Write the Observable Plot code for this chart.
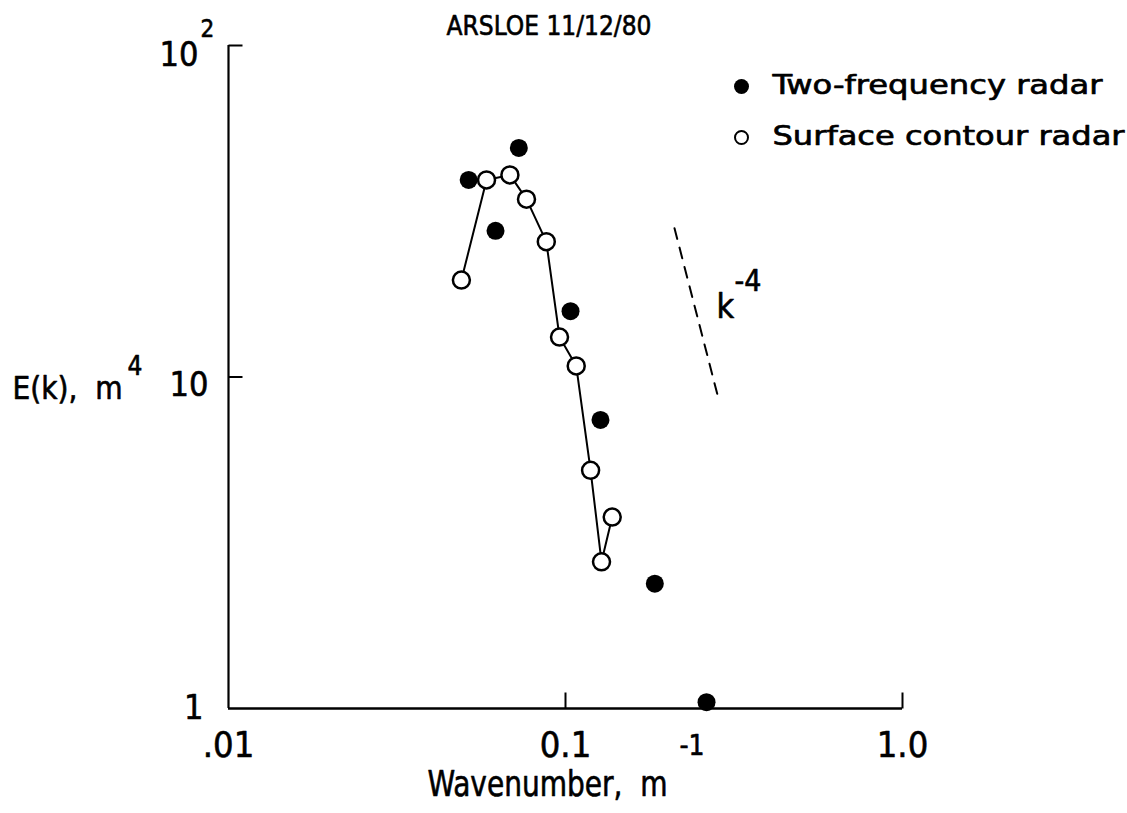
<!DOCTYPE html>
<html><head><meta charset="utf-8">
<script src="https://cdn.jsdelivr.net/npm/d3@7"></script>
<script src="https://cdn.jsdelivr.net/npm/@observablehq/plot@0.6"></script>
<style>
html,body{margin:0;padding:0;background:#fff;}
svg{display:block;}
</style></head><body><div id="chart"></div>
<script>
// ---- data ----
const title = "ARSLOE 11/12/80";
const xLabel = "Wavenumber,  m";
const xLabelSup = "-1";
const yLabel = "E(k),  m";
const yLabelSup = "4";
const seriesNames = ["Two-frequency radar", "Surface contour radar"];

const twoFreqK = [0.0516, 0.0620, 0.0727, 0.1035, 0.1270, 0.1841, 0.2621];
const twoFreqE = [39.3, 27.6, 49.1, 15.8, 7.42, 2.38, 1.045];

const scrK = [0.0491, 0.0583, 0.0684, 0.0766, 0.0877, 0.0960, 0.1076, 0.1187, 0.1279, 0.1376];
const scrE = [19.6, 39.3, 40.7, 34.4, 25.6, 13.2, 10.8, 5.23, 2.77, 3.78];

const slopeK = [0.2106, 0.2831];
const slopeE = [28.1, 8.76];
const slopeLabelK = [0.2805];
const slopeLabelE = [16.3];
const slopeLabelText = ["k"];
const slopeLabelSup = ["-4"];

const xTicks = [0.01, 0.1, 1];
const xTickLabels = [".01", "0.1", "1.0"];
const yTicks = [1, 10, 100];
const yTickLabels = ["1", "10", "10"];
const yTickSup = "2";

// ---- build tables ----
const two = twoFreqK.map((k, i) => ({k, e: twoFreqE[i]}));
const scr = scrK.map((k, i) => ({k, e: scrE[i]}));
const slope = slopeK.map((k, i) => ({k, e: slopeE[i]}));
const slopeLbl = slopeLabelK.map((k, i) => ({k, e: slopeLabelE[i], t: slopeLabelText[i], s: slopeLabelSup[i]}));
const xT = xTicks.map((v, i) => ({v, t: xTickLabels[i]}));

const FONT = "'DejaVu Sans Condensed','Liberation Sans Narrow','Roboto Condensed','DejaVu Sans',sans-serif";
const INK = {fill: "black", stroke: "black", strokeWidth: 0.6};

const vTick = {draw(ctx) { ctx.moveTo(0, 0); ctx.lineTo(0, -16); }};
const hTick = {draw(ctx) { ctx.moveTo(0, 0); ctx.lineTo(14, 0); }};

const plot = Plot.plot({
  width: 1127, height: 813,
  marginLeft: 228, marginRight: 225, marginTop: 45, marginBottom: 105,
  style: {fontFamily: FONT, background: "white", color: "black", overflow: "visible"},
  x: {type: "log", domain: [0.01, 1], axis: null},
  y: {type: "log", domain: [1, 100], axis: null},
  marks: [
    // axes
    Plot.ruleY([1], {x1: 0.01, x2: 1, strokeWidth: 2.6}),
    Plot.ruleX([0.01], {y1: 1, y2: 100, strokeWidth: 2.2}),
    Plot.dot(xTicks.slice(1), {x: d => d, y: 1, symbol: vTick, stroke: "black", fill: "none", strokeWidth: 2}),
    Plot.dot(yTicks.slice(1), {x: 0.01, y: d => d, symbol: hTick, stroke: "black", fill: "none", strokeWidth: 2}),
    // tick labels
    Plot.text(xT, {x: "v", y: 1, text: "t", dy: 37, fontSize: 36, textAnchor: "middle", ...INK}),
    Plot.text([yTicks[0]], {x: 0.01, y: d => d, text: () => yTickLabels[0], dx: -25, dy: 0, fontSize: 34, textAnchor: "end", ...INK}),
    Plot.text([yTicks[1]], {x: 0.01, y: d => d, text: () => yTickLabels[1], dx: -20, dy: 8, fontSize: 34, textAnchor: "end", ...INK}),
    Plot.text([yTicks[2]], {x: 0.01, y: d => d, text: () => yTickLabels[2], dx: -30, dy: 10, fontSize: 34, textAnchor: "end", ...INK}),
    Plot.text([yTicks[2]], {x: 0.01, y: d => d, text: () => yTickSup, dx: -28, dy: -16, fontSize: 24, textAnchor: "start", ...INK}),
    // axis labels
    Plot.text([xLabel], {frameAnchor: "bottom-left", text: d => d, dx: 199, dy: 87, fontSize: 35, textAnchor: "start", ...INK}),
    Plot.text([xLabelSup], {frameAnchor: "bottom-left", text: d => d, dx: 451, dy: 46, fontSize: 28, textAnchor: "start", ...INK}),
    Plot.text([yLabel], {frameAnchor: "left", text: d => d, dx: -216, dy: 12, fontSize: 32, textAnchor: "start", ...INK}),
    Plot.text([yLabelSup], {frameAnchor: "left", text: d => d, dx: -101, dy: -10, fontSize: 26, textAnchor: "start", ...INK}),
    // title
    Plot.text([title], {frameAnchor: "top-left", text: d => d, dx: 218, dy: -30, fontSize: 27, textAnchor: "start", ...INK}),
    // slope reference
    Plot.line(slope, {x: "k", y: "e", stroke: "black", strokeWidth: 2, strokeDasharray: "11,9"}),
    Plot.text(slopeLbl, {x: "k", y: "e", text: "t", fontSize: 34, textAnchor: "start", ...INK}),
    Plot.text(slopeLbl, {x: "k", y: "e", text: "s", dx: 18, dy: -25, fontSize: 30, textAnchor: "start", ...INK}),
    // surface contour radar
    Plot.line(scr, {x: "k", y: "e", stroke: "black", strokeWidth: 2}),
    Plot.dot(scr, {x: "k", y: "e", r: 8.5, fill: "white", stroke: "black", strokeWidth: 2.5}),
    // two-frequency radar
    Plot.dot(two, {x: "k", y: "e", r: 9, fill: "black"}),
    // legend
    Plot.dot([0], {frameAnchor: "top-right", dx: -161, dy: 41, r: 7.5, fill: "black"}),
    Plot.dot([0], {frameAnchor: "top-right", dx: -161, dy: 92, r: 6.5, fill: "white", stroke: "black", strokeWidth: 2}),
    Plot.text([seriesNames[0]], {frameAnchor: "top-right", text: d => d, dx: -130, dy: 30, fontSize: 26, textAnchor: "start", ...INK}),
    Plot.text([seriesNames[1]], {frameAnchor: "top-right", text: d => d, dx: -130, dy: 81, fontSize: 26, textAnchor: "start", ...INK})
  ]
});

// fit text widths to the reference lettering
const widths = {};
widths[title] = 205;
widths[seriesNames[0]] = 330;
widths[seriesNames[1]] = 352;
widths[xLabel] = 240;
widths[yLabel] = 110;
plot.querySelectorAll("text").forEach(t => {
  const w = widths[t.textContent];
  if (w) { t.setAttribute("textLength", w); t.setAttribute("lengthAdjust", "spacingAndGlyphs"); }
});
document.getElementById("chart").appendChild(plot);
</script>
</body></html>
